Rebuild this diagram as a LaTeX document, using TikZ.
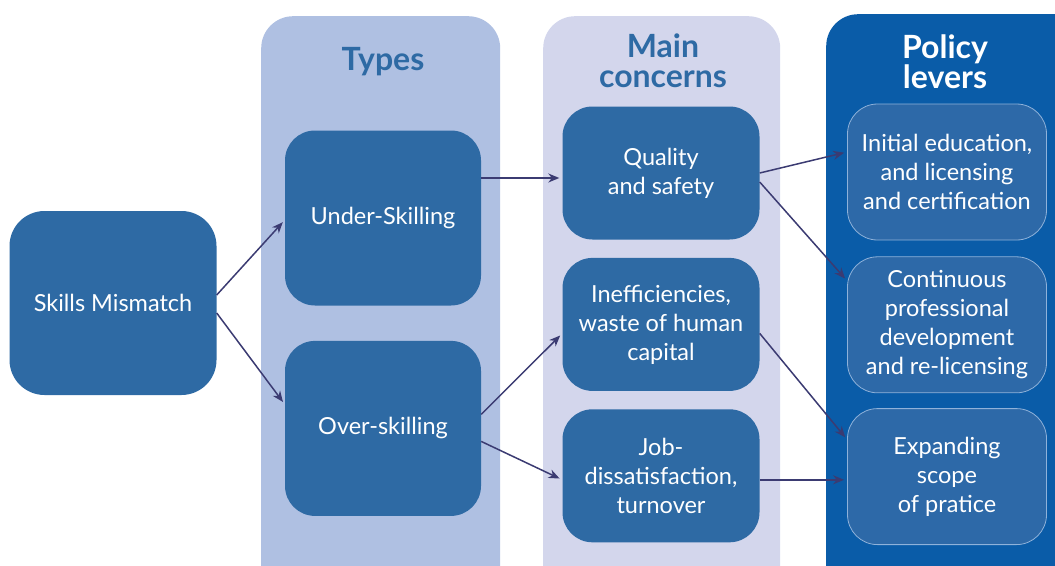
\documentclass[tikz,border=0pt]{standalone}
\usepackage{fontspec}
\setmainfont{Lato}
\usetikzlibrary{arrows.meta,
                positioning}
\definecolor{boxblue}{HTML}{2E6AA4}
\definecolor{typesbg}{HTML}{AFC0E2}
\definecolor{concernbg}{HTML}{D3D6EC}
\definecolor{policybg}{HTML}{0A5CA8}
\definecolor{leverblue}{HTML}{2D69A8}
\definecolor{leverline}{HTML}{8FB2DA}
\definecolor{arrowblue}{HTML}{3B3B72}
\tikzset{block/.style=
   {rectangle,
    fill=boxblue,
    text=white,
    align=center,
    rounded corners=30pt,
    font=\fontsize{23.5}{29}\selectfont}}
\tikzset{lever/.style =
   {block,
    draw=leverline,
    fill=leverblue,
    line width=0.8pt}}
\tikzset{column/.style =
   {rectangle,
    anchor=north west,
    inner sep=0pt,
    rounded corners=32pt}}
\tikzset{heading/.style =
   {align=center,
    text=boxblue,
    font=\fontsize{32}{30}\selectfont\bfseries}}
\tikzset{arrow/.style = {draw=arrowblue, line width=1.5pt, -{Stealth[length=11pt, width=9pt]}, shorten >=3pt}}

\begin{document}
\begin{tikzpicture}[x=1pt, y=-1pt]

    \clip (0,0) rectangle (1055,565);

    % columns
    \node [column, fill=typesbg,
           minimum width=239pt, minimum height=600pt] (typescol) at (261,16) {};
    \node [column, fill=concernbg,
           minimum width=237pt, minimum height=600pt] (concerncol) at (543,16) {};
    \node [column, fill=policybg,
           minimum width=260pt, minimum height=600pt] (policycol) at (826,14) {};

    \node [heading] (typestitle) at (383,62) {Types};
    \node [heading] (concerntitle) at (663,61) {Main\\concerns};
    \node [heading, text=white] (policytitle) at (945,62) {Policy\\levers};

    % boxes
    \node [block,
           minimum width=207pt,
           minimum height=184pt,
           rounded corners=35pt] (mismatch) at (113,303) {Skills Mismatch};

    \node [block,
           minimum width=196pt,
           minimum height=175pt] (under) at (383,218) {Under-Skilling};
    \node [block,
           minimum width=196pt,
           minimum height=175pt,
           below = 35pt of under] (over) {Over-skilling};

    \node [block,
           minimum width=197pt,
           minimum height=133pt] (quality) at (661,173) {Quality\\and safety};
    \node [block,
           minimum width=197pt,
           minimum height=133pt,
           below = 18pt of quality] (ineff) {Inefficiencies,\\waste of human\\capital};
    \node [block,
           minimum width=197pt,
           minimum height=133pt,
           below = 18pt of ineff] (job) {Job-\\dissatisfaction,\\turnover};

    \node [lever,
           minimum width=199pt,
           minimum height=136pt] (initial) at (947,172) {Initial education,\\and licensing\\and certification};
    \node [lever,
           minimum width=199pt,
           minimum height=136pt,
           below = 16pt of initial] (continuous) {Continuous\\professional\\development\\and re-licensing};
    \node [lever,
           minimum width=199pt,
           minimum height=136pt,
           below = 15pt of continuous] (expanding) {Expanding\\scope\\of pratice};

    % connectors
    \draw [arrow] ([yshift=8pt]mismatch.east) -- ([yshift=-2pt]under.west);
    \draw [arrow] ([yshift=-10pt]mismatch.east) -- ([yshift=24pt]over.west);
    \draw [arrow] ([yshift=40pt]under.east) -- ([yshift=40pt]under.east -| quality.west);
    \draw [arrow] ([yshift=14pt]over.east) -- ([yshift=-9pt]ineff.west);
    \draw [arrow] ([yshift=-13pt]over.east) -- ([yshift=-4pt]job.west);
    \draw [arrow] (quality.east) -- ([yshift=20pt]initial.west);
    \draw [arrow] ([yshift=-9pt]quality.east) -- ([yshift=44pt]continuous.west);
    \draw [arrow] ([yshift=-9pt]ineff.east) -- ([yshift=37pt]expanding.west);
    \draw [arrow] ([yshift=-4pt]job.east) -- ([yshift=-4pt]job.east -| expanding.west);

\end{tikzpicture}
\end{document}
